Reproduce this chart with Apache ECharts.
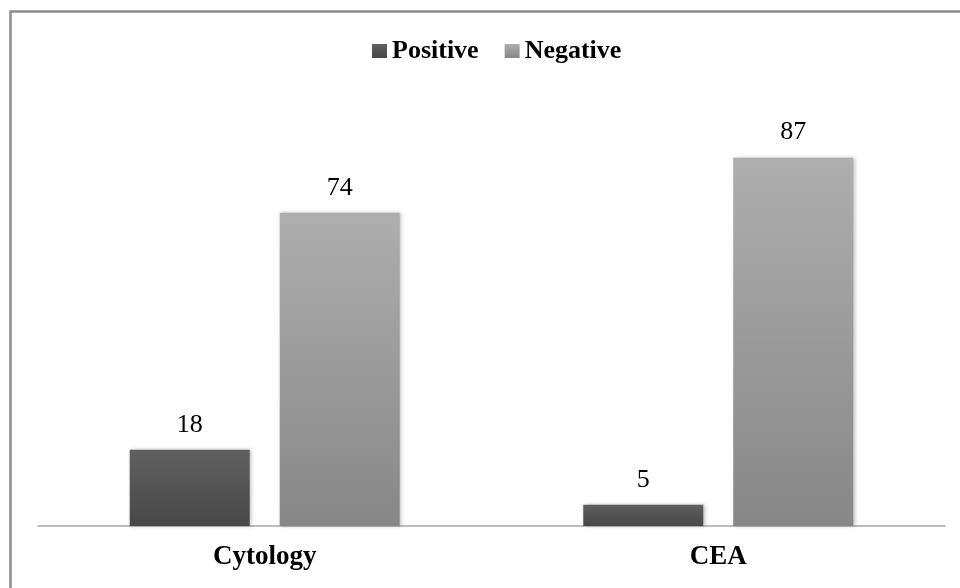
<!DOCTYPE html>
<html>
<head>
<meta charset="utf-8">
<script src="https://cdn.jsdelivr.net/npm/echarts@6/dist/echarts.min.js"></script>
<style>html,body{margin:0;padding:0;background:#fff}#c{width:960px;height:588px}</style>
</head>
<body>
<div id="c"></div>
<script>
var categories = ['Cytology', 'CEA'];
var positiveValues = [18, 5];
var negativeValues = [74, 87];
var seriesNames = ['Positive', 'Negative'];

var chart = echarts.init(document.getElementById('c'));
function grad(top, bottom) {
  return new echarts.graphic.LinearGradient(0, 0, 0, 1, [
    {offset: 0, color: top}, {offset: 1, color: bottom}
  ]);
}
var font = '"Liberation Serif", "Times New Roman", serif';
chart.setOption({
  backgroundColor: '#fff',
  animation: false,
  graphic: [{
    type: 'rect', silent: true,
    shape: {x: 10.5, y: 11.5, width: 1200, height: 1000},
    style: {fill: 'none', stroke: '#8c8c8c', lineWidth: 2.5}
  }],
  legend: {
    top: 33, left: 367,
    icon: 'rect',
    itemWidth: 15, itemHeight: 14, itemGap: 26,
    textStyle: {fontFamily: font, fontWeight: 'bold', fontSize: 26, color: '#000'},
    data: seriesNames
  },
  grid: {left: 38, right: 15, top: 102.6, bottom: 62},
  xAxis: {
    type: 'category', data: categories,
    axisLine: {lineStyle: {color: '#a6a6a6', width: 1.5}},
    axisTick: {show: false},
    axisLabel: {fontFamily: font, fontWeight: 'bold', fontSize: 27, color: '#000', margin: 18}
  },
  yAxis: {type: 'value', min: 0, max: 100, show: false, splitLine: {show: false}},
  series: [{
    name: seriesNames[0], type: 'bar', data: positiveValues,
    barWidth: 120, barGap: '25%',
    itemStyle: {color: grad('#606060', '#474747'), shadowColor: 'rgba(0,0,0,0.25)', shadowBlur: 4, shadowOffsetX: 1.5},
    label: {show: true, position: 'top', distance: 12, fontFamily: font, fontSize: 26, color: '#000'}
  }, {
    name: seriesNames[1], type: 'bar', data: negativeValues,
    barWidth: 120,
    itemStyle: {color: grad('#aeaeae', '#878787'), shadowColor: 'rgba(0,0,0,0.25)', shadowBlur: 4, shadowOffsetX: 1.5},
    label: {show: true, position: 'top', distance: 12, fontFamily: font, fontSize: 26, color: '#000'}
  }]
});
</script>
</body>
</html>
